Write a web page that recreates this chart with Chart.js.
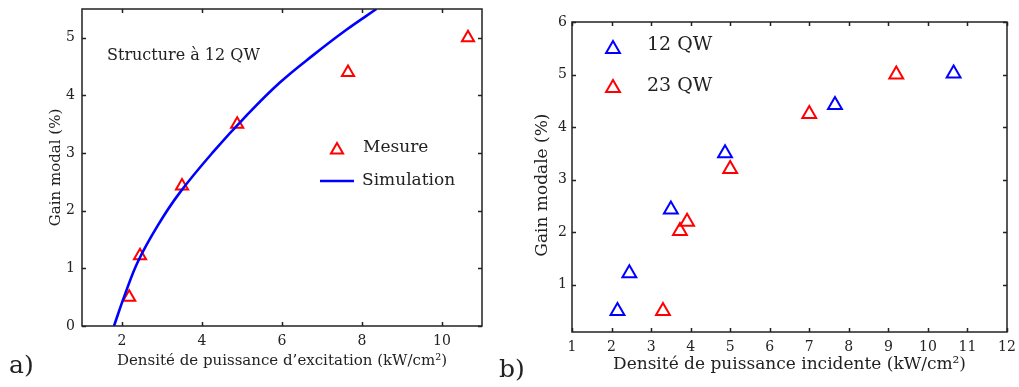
<!DOCTYPE html>
<html>
<head>
<meta charset="utf-8">
<script src="https://cdn.jsdelivr.net/npm/chart.js@4"></script>
<style>
  body { margin: 0; background: #fff; width: 1019px; height: 387px; overflow: hidden; position: relative; }
  canvas { position: absolute; top: 0; }
  #cA { left: 0; }
  #cB { left: 500px; }
  .tag { position: absolute; font-family: "DejaVu Serif", serif; font-size: 25px; color: #222; }
</style>
</head>
<body>
<canvas id="cA" width="500" height="387"></canvas>
<canvas id="cB" width="519" height="387"></canvas>
<div class="tag" style="left:9px; top:350px;">a)</div>
<div class="tag" style="left:499px; top:354px;">b)</div>
<script>
// a) gain modal, structure 12 QW
const mesureX = [2.18, 2.45, 3.5, 4.88, 7.65, 10.65];
const mesureY = [0.5, 1.22, 2.43, 3.5, 4.4, 5.0];
const simX = [1.8, 2.07, 2.4, 2.9, 3.44, 4.28, 5.11, 5.94, 6.78, 7.61, 8.36];
const simY = [0, 0.54, 1.12, 1.75, 2.31, 3.02, 3.65, 4.22, 4.70, 5.14, 5.5];
const ticksAX = [2, 4, 6, 8, 10];
const ticksAY = [0, 1, 2, 3, 4, 5];

// b) 12 QW vs 23 QW
const qw12X = [2.15, 2.45, 3.5, 4.87, 7.65, 10.65];
const qw12Y = [0.5, 1.22, 2.43, 3.5, 4.42, 5.02];
const qw23X = [3.3, 3.73, 3.91, 5.0, 7.0, 9.2];
const qw23Y = [0.5, 2.02, 2.2, 3.2, 4.25, 5.0];
const ticksBX = [1, 2, 3, 4, 5, 6, 7, 8, 9, 10, 11, 12];
const ticksBY = [1, 2, 3, 4, 5, 6];

const serif = '"DejaVu Serif", serif';
const ink = '#222';

function pts(xs, ys) {
  return xs.map((x, i) => ({ x: x, y: ys[i] }));
}

function tri(ctx, x, y, r, color) {
  ctx.beginPath();
  ctx.moveTo(x, y - r);
  ctx.lineTo(x + r * 0.866, y + r / 2);
  ctx.lineTo(x - r * 0.866, y + r / 2);
  ctx.closePath();
  ctx.strokeStyle = color;
  ctx.lineWidth = 2;
  ctx.stroke();
}

// cadre + graduations vers l'intérieur sur les 4 côtés
const boxTicks = {
  id: "boxTicks",
  afterDraw(chart) {
    const ctx = chart.ctx;
    const a = chart.chartArea;
    const x = chart.scales.x, y = chart.scales.y;
    ctx.save();
    ctx.strokeStyle = ink;
    ctx.lineWidth = 1.5;
    ctx.strokeRect(a.left, a.top, a.right - a.left, a.bottom - a.top);
    ctx.beginPath();
    x.ticks.forEach(t => {
      const p = Math.round(x.getPixelForValue(t.value)) + 0.5;
      ctx.moveTo(p, a.bottom); ctx.lineTo(p, a.bottom - 4);
      ctx.moveTo(p, a.top); ctx.lineTo(p, a.top + 4);
    });
    y.ticks.forEach(t => {
      const p = Math.round(y.getPixelForValue(t.value)) + 0.5;
      ctx.moveTo(a.left, p); ctx.lineTo(a.left + 4, p);
      ctx.moveTo(a.right, p); ctx.lineTo(a.right - 4, p);
    });
    ctx.stroke();
    ctx.restore();
  }
};

// légendes dessinées dans la zone du graphique
const innerLegend = {
  id: "innerLegend",
  afterDraw(chart, args, opts) {
    const ctx = chart.ctx;
    ctx.save();
    ctx.textBaseline = "middle";
    (opts.items || []).forEach(it => {
      if (it.kind === "tri") tri(ctx, it.mx, it.my, it.r, it.color);
      if (it.kind === "line") {
        ctx.beginPath();
        ctx.moveTo(it.mx - 17, it.my); ctx.lineTo(it.mx + 17, it.my);
        ctx.strokeStyle = it.color; ctx.lineWidth = 2.5; ctx.stroke();
      }
      ctx.font = it.size + "px " + serif;
      ctx.fillStyle = ink;
      ctx.fillText(it.text, it.tx, it.ty);
    });
    ctx.restore();
  }
};

function axis(min, max, tickList, tickPad, fixed, title, titleSize, isY) {
  return {
    type: "linear",
    min: min,
    max: max,
    grid: { display: false, drawTicks: false },
    border: { display: false },
    afterBuildTicks: s => { s.ticks = tickList.map(v => ({ value: v })); },
    afterFit: s => {
      if (isY) { s.width = fixed; s.paddingTop = 0; s.paddingBottom = 0; }
      else { s.height = fixed; s.paddingLeft = 0; s.paddingRight = 0; }
    },
    ticks: { color: ink, padding: tickPad, font: { family: serif, size: 14 } },
    title: { display: true, text: title, color: ink, padding: 0, font: { family: serif, size: titleSize } }
  };
}

new Chart(document.getElementById("cA"), {
  type: "scatter",
  data: {
    datasets: [
      {
        label: "Simulation",
        data: pts(simX, simY),
        showLine: true,
        borderColor: "#0000ff",
        borderWidth: 2.6,
        pointRadius: 0,
        tension: 0.4
      },
      {
        label: "Mesure",
        data: pts(mesureX, mesureY),
        pointStyle: "triangle",
        pointRadius: 7,
        borderColor: "#ff0000",
        backgroundColor: "rgba(0,0,0,0)",
        borderWidth: 2
      }
    ]
  },
  options: {
    responsive: false,
    animation: false,
    devicePixelRatio: 1,
    layout: { padding: { left: 47, right: 18, top: 8, bottom: 17 } },
    scales: {
      x: axis(1, 11, ticksAX, 7, 44, "Densité de puissance d’excitation (kW/cm²)", 15, false),
      y: axis(0, 5.5, ticksAY, 7, 35, "Gain modal (%)", 15, true)
    },
    plugins: {
      legend: { display: false },
      tooltip: { enabled: false },
      innerLegend: {
        items: [
          { kind: "none", text: "Structure à 12 QW", tx: 107, ty: 56, size: 16 },
          { kind: "tri", mx: 337, my: 150, r: 7, color: "#ff0000", text: "Mesure", tx: 363, ty: 148, size: 17 },
          { kind: "line", mx: 337, my: 181, color: "#0000ff", text: "Simulation", tx: 362, ty: 181, size: 17 }
        ]
      }
    }
  },
  plugins: [boxTicks, innerLegend]
});

new Chart(document.getElementById("cB"), {
  type: "scatter",
  data: {
    datasets: [
      {
        label: "12 QW",
        data: pts(qw12X, qw12Y),
        pointStyle: "triangle",
        pointRadius: 8,
        borderColor: "#0000ff",
        backgroundColor: "rgba(0,0,0,0)",
        borderWidth: 2
      },
      {
        label: "23 QW",
        data: pts(qw23X, qw23Y),
        pointStyle: "triangle",
        pointRadius: 8,
        borderColor: "#ff0000",
        backgroundColor: "rgba(0,0,0,0)",
        borderWidth: 2
      }
    ]
  },
  options: {
    responsive: false,
    animation: false,
    devicePixelRatio: 1,
    layout: { padding: { left: 32, right: 12, top: 22, bottom: 12 } },
    scales: {
      x: axis(1, 12, ticksBX, 7, 43, "Densité de puissance incidente (kW/cm²)", 17, false),
      y: axis(0.1, 6, ticksBY, 5, 40, "Gain modale (%)   ", 17, true)
    },
    plugins: {
      legend: { display: false },
      tooltip: { enabled: false },
      innerLegend: {
        items: [
          { kind: "tri", mx: 113, my: 49, r: 8, color: "#0000ff", text: "12 QW", tx: 147, ty: 45, size: 19 },
          { kind: "tri", mx: 113, my: 88, r: 8, color: "#ff0000", text: "23 QW", tx: 147, ty: 86, size: 19 }
        ]
      }
    }
  },
  plugins: [boxTicks, innerLegend]
});
</script>
</body>
</html>
